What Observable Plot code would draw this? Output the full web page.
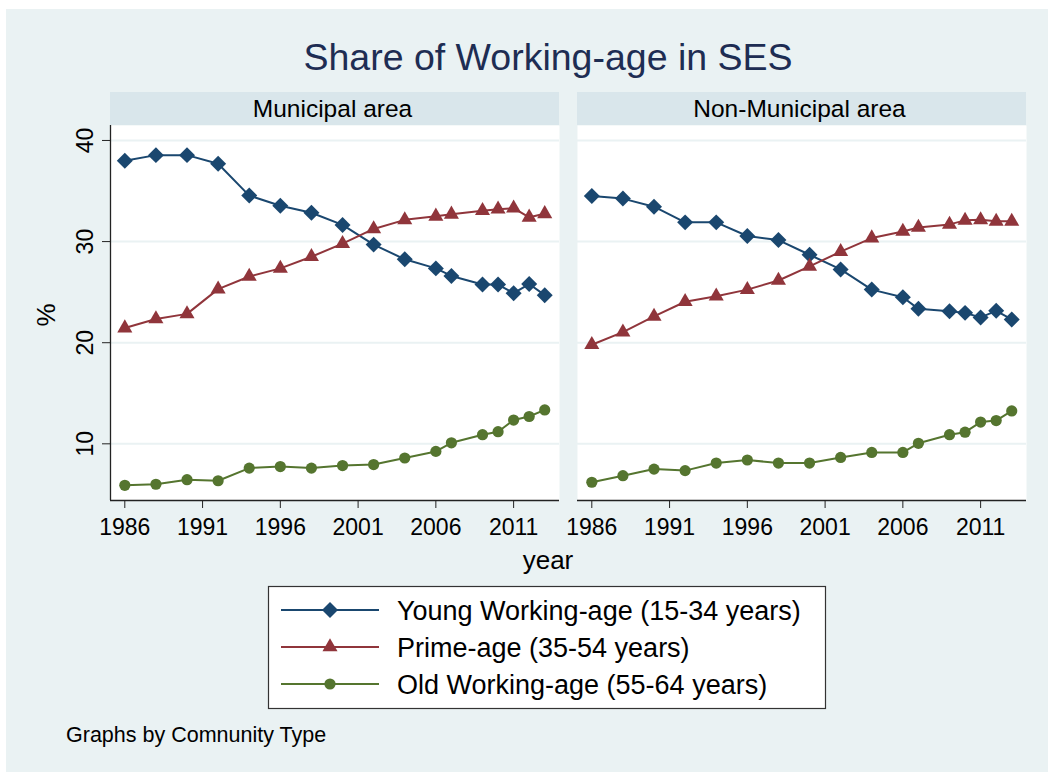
<!DOCTYPE html>
<html>
<head>
<meta charset="utf-8">
<script src="https://cdn.jsdelivr.net/npm/d3@7"></script>
<script src="https://cdn.jsdelivr.net/npm/@observablehq/plot@0.6"></script>
<style>
  body { margin: 0; background: #ffffff; font-family: "Liberation Sans", Arial, sans-serif; }
  #root { position: relative; width: 1048px; height: 772px; overflow: hidden; }
  #bg { position: absolute; left: 6px; top: 9px; width: 1042px; height: 763px; background: #EAF2F3; }
  .abs { position: absolute; }
</style>
</head>
<body>
<div id="root">
  <div id="bg"></div>
</div>
<script>
// ---------------- DATA ----------------
const years = [1986, 1988, 1990, 1992, 1994, 1996, 1998, 2000, 2002, 2004, 2006, 2007, 2009, 2010, 2011, 2012, 2013];

const youngMunicipal = [38.0, 38.55, 38.55, 37.7, 34.55, 33.55, 32.85, 31.65, 29.7, 28.25, 27.35, 26.6, 25.75, 25.75, 24.9, 25.8, 24.7];
const primeMunicipal = [21.45, 22.35, 22.85, 25.3, 26.55, 27.35, 28.5, 29.8, 31.25, 32.15, 32.5, 32.7, 33.05, 33.2, 33.3, 32.4, 32.75];
const oldMunicipal   = [5.9, 6.0, 6.45, 6.35, 7.6, 7.75, 7.6, 7.85, 7.95, 8.6, 9.25, 10.1, 10.9, 11.2, 12.35, 12.7, 13.35];

const youngNonMunicipal = [34.5, 34.25, 33.45, 31.9, 31.9, 30.55, 30.15, 28.7, 27.25, 25.25, 24.5, 23.35, 23.1, 22.95, 22.5, 23.15, 22.3];
const primeNonMunicipal = [19.8, 21.05, 22.6, 24.05, 24.6, 25.25, 26.15, 27.55, 29.0, 30.35, 31.0, 31.4, 31.7, 32.1, 32.15, 32.0, 32.0];
const oldNonMunicipal   = [6.2, 6.85, 7.5, 7.35, 8.1, 8.4, 8.1, 8.1, 8.65, 9.15, 9.15, 10.05, 10.9, 11.15, 12.15, 12.3, 13.25];

const seriesNames = ["Young Working-age (15-34 years)", "Prime-age (35-54 years)", "Old Working-age (55-64 years)"];
const seriesColors = ["#1A476F", "#90353B", "#55752F"];
const seriesSymbols = ["diamond2", "triangle", "circle"];
const seriesR = [7.2, 5.6, 5.6];

const panelNames = ["Municipal area", "Non-Municipal area"];
const xTicks = [1986, 1991, 1996, 2001, 2006, 2011];
const yTicks = [10, 20, 30, 40];

const titleText = "Share of Working-age in SES";
const xLabel = "year";
const yLabel = "%";
const noteText = "Graphs by Comnunity Type";

// ---------------- BUILD ----------------
function rows(seriesArrays) {
  const out = [];
  seriesArrays.forEach((arr, si) => {
    arr.forEach((v, i) => out.push({year: years[i], value: v, series: seriesNames[si]}));
  });
  return out;
}
const panelData = [
  rows([youngMunicipal, primeMunicipal, oldMunicipal]),
  rows([youngNonMunicipal, primeNonMunicipal, oldNonMunicipal])
];

const xDomain = [1985.08, 2013.95];
const yDomain = [4.395, 41.48];
const axisColor = "#222";
const gridColor = "#EAF2F3";

function makePanel(data, withYAxis) {
  const marks = [
    Plot.frame({fill: "white", stroke: "none"}),
    Plot.ruleY(yTicks, {stroke: gridColor, strokeWidth: 2}),
    Plot.ruleY([yDomain[0]], {stroke: axisColor, strokeWidth: 1.3}),
    Plot.axisX({ticks: xTicks, tickSize: 8, tickPadding: 10, tickFormat: d => String(d), label: null, stroke: axisColor, fill: "#000"})
  ];
  if (withYAxis) {
    marks.push(
      Plot.ruleX([xDomain[0]], {stroke: axisColor, strokeWidth: 1.3}),
      Plot.axisY({ticks: yTicks, tickSize: 8, tickFormat: () => "", label: null, stroke: axisColor}),
      Plot.text(yTicks, {y: d => d, text: d => String(d), frameAnchor: "left", dx: -18, rotate: -90, textAnchor: "middle", lineAnchor: "bottom", fill: "#000"})
    );
  }
  seriesNames.forEach((name, si) => {
    const sub = data.filter(d => d.series === name);
    marks.push(Plot.line(sub, {x: "year", y: "value", stroke: seriesColors[si], strokeWidth: 2}));
  });
  seriesNames.forEach((name, si) => {
    const sub = data.filter(d => d.series === name);
    marks.push(Plot.dot(sub, {x: "year", y: "value", symbol: () => seriesSymbols[si], fill: seriesColors[si], stroke: "none", r: seriesR[si]}));
  });
  return Plot.plot({
    width: withYAxis ? 519 : 449,
    height: 420,
    marginLeft: withYAxis ? 70 : 0,
    marginRight: 0,
    marginTop: 0,
    marginBottom: 45,
    x: {domain: xDomain},
    y: withYAxis ? {domain: yDomain} : {domain: yDomain, axis: null},
    symbol: {type: "identity"},
    style: {fontFamily: "'Liberation Sans', Arial, sans-serif", fontSize: "23px", background: "transparent", color: "#000", overflow: "visible"},
    marks
  });
}

const root = document.getElementById("root");

// strips
const stripBoxes = [[110, 92, 449, 33], [577, 92, 449, 33]];
stripBoxes.forEach(([x, y, w, h]) => {
  const s = document.createElement("div");
  s.className = "abs";
  Object.assign(s.style, {left: x + "px", top: y + "px", width: w + "px", height: h + "px", background: "#D9E6EB"});
  root.appendChild(s);
});

const left = makePanel(panelData[0], true);
left.classList.add("abs");
left.style.left = "40px"; left.style.top = "125px";
root.appendChild(left);

const right = makePanel(panelData[1], false);
right.classList.add("abs");
right.style.left = "577px"; right.style.top = "125px";
root.appendChild(right);

// overlay texts and legend
const svg = d3.select(root).append("svg")
  .attr("class", "abs")
  .attr("width", 1048).attr("height", 772)
  .style("left", "0px").style("top", "0px")
  .style("font-family", "'Liberation Sans', Arial, sans-serif");

svg.append("text").attr("x", 548).attr("y", 70).attr("text-anchor", "middle")
  .attr("font-size", 37.5).attr("fill", "#1E2D53").text(titleText);

stripBoxes.forEach(([x, y, w, h], i) => {
  svg.append("text").attr("x", x + w / 2 - 2).attr("y", 117).attr("text-anchor", "middle")
    .attr("font-size", 24.5).attr("fill", "#000").text(panelNames[i]);
});

svg.append("text").attr("x", 548).attr("y", 569).attr("text-anchor", "middle")
  .attr("font-size", 26).attr("fill", "#000").text(xLabel);

svg.append("text").attr("transform", "translate(55,315) rotate(-90)").attr("text-anchor", "middle")
  .attr("font-size", 26).attr("fill", "#000").text(yLabel);

// legend
svg.append("rect").attr("x", 268.5).attr("y", 586.5).attr("width", 557).attr("height", 122)
  .attr("fill", "white").attr("stroke", "#333").attr("stroke-width", 1.2);
const symMap = {diamond2: d3.symbolDiamond2, triangle: d3.symbolTriangle, circle: d3.symbolCircle};
seriesNames.forEach((name, i) => {
  const cy = 610 + i * 37;
  svg.append("line").attr("x1", 281).attr("x2", 379).attr("y1", cy).attr("y2", cy)
    .attr("stroke", seriesColors[i]).attr("stroke-width", 2);
  svg.append("path").attr("transform", `translate(330,${cy})`)
    .attr("d", d3.symbol(symMap[seriesSymbols[i]], Math.PI * seriesR[i] * seriesR[i])())
    .attr("fill", seriesColors[i]);
  svg.append("text").attr("x", 397).attr("y", cy + 9.5).attr("font-size", 27).attr("fill", "#000").text(name);
});

svg.append("text").attr("x", 66).attr("y", 742).attr("font-size", 21.5).attr("fill", "#000").text(noteText);
</script>
</body>
</html>
